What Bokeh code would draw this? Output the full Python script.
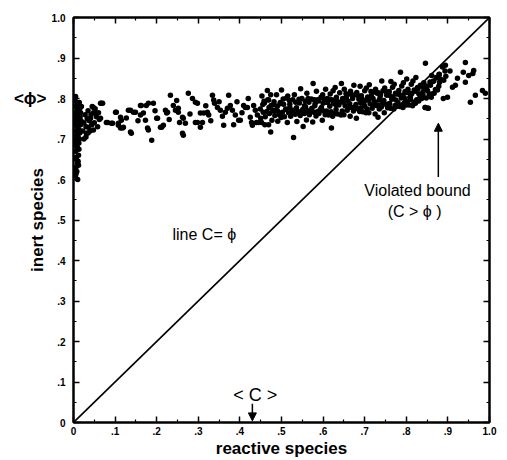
from bokeh.plotting import figure
from bokeh.models import (FixedTicker, LinearAxis, Label, Arrow, NormalHead,
                          CustomJSTickFormatter)
from bokeh.embed import file_html
from bokeh.resources import INLINE

# ---------------- data ----------------
# dense column of points just right of C = 0
column_pts = [(0.005,0.61),(0.008,0.62),(0.006,0.63),(0.010,0.64),(0.007,0.65),(0.012,0.66),
              (0.005,0.67),(0.009,0.68),(0.013,0.69),(0.006,0.70),(0.011,0.705),(0.008,0.71),
              (0.015,0.715),(0.005,0.72),(0.012,0.725),(0.009,0.73),(0.017,0.735),(0.006,0.74),
              (0.013,0.745),(0.010,0.75),(0.016,0.755),(0.007,0.76),(0.012,0.765),(0.009,0.77),
              (0.015,0.775),(0.006,0.78),(0.011,0.785),(0.008,0.79),(0.004,0.795),(0.010,0.60),
              (0.007,0.655),(0.013,0.675),(0.005,0.695),(0.014,0.70),(0.004,0.735),(0.018,0.745),
              (0.003,0.765),(0.014,0.79),(0.006,0.615),(0.011,0.645),(0.004,0.625),(0.012,0.635),
              (0.004,0.685),(0.016,0.72),(0.004,0.75),(0.017,0.765),(0.005,0.805),(0.019,0.78)]

# small cluster next to the column
left_pts = [(0.022,0.72),(0.025,0.74),(0.028,0.76),(0.030,0.73),(0.033,0.75),(0.035,0.77),
            (0.038,0.745),(0.040,0.72),(0.042,0.76),(0.045,0.78),(0.048,0.765),(0.050,0.74),
            (0.052,0.775),(0.055,0.755),(0.058,0.73),(0.060,0.765),(0.065,0.788),(0.025,0.70),
            (0.030,0.705),(0.035,0.715),(0.062,0.748),(0.044,0.735),(0.048,0.778),(0.053,0.764),
            (0.041,0.751),(0.036,0.729),(0.048,0.722),(0.031,0.714),(0.067,0.788),(0.065,0.751)]

# scattered band, C from about .07 to .50
mid_pts = [(0.079,0.741),(0.091,0.739),(0.103,0.766),(0.108,0.739),(0.115,0.746),(0.120,0.729),
           (0.113,0.727),(0.139,0.714),(0.137,0.771),(0.149,0.766),(0.161,0.759),(0.173,0.746),
           (0.180,0.722),(0.188,0.697),(0.163,0.783),(0.175,0.783),(0.192,0.788),(0.200,0.751),
           (0.212,0.729),(0.224,0.764),(0.233,0.808),(0.240,0.783),(0.221,0.771),(0.070,0.788),
           (0.082,0.741),(0.094,0.739),(0.101,0.766),(0.108,0.734),(0.113,0.754),(0.118,0.727),
           (0.137,0.717),(0.132,0.771),(0.144,0.766),(0.161,0.783),(0.168,0.764),(0.178,0.727),
           (0.180,0.788),(0.202,0.751),(0.209,0.729),(0.216,0.734),(0.226,0.766),(0.245,0.771),
           (0.252,0.776),(0.262,0.754),(0.264,0.709),(0.269,0.739),(0.276,0.813),(0.286,0.800),
           (0.293,0.791),(0.298,0.741),(0.305,0.729),(0.313,0.764),(0.322,0.766),(0.334,0.808),
           (0.337,0.796),(0.346,0.778),(0.353,0.771),(0.361,0.734),(0.373,0.808),(0.377,0.783),
           (0.382,0.771),(0.389,0.759),(0.401,0.746),(0.409,0.783),(0.418,0.778),(0.430,0.734),
           (0.433,0.783),(0.442,0.759),(0.450,0.751),(0.466,0.820),(0.474,0.717),(0.481,0.771),
           (0.298,0.788),(0.305,0.764),(0.325,0.759),(0.339,0.788),(0.310,0.741),(0.293,0.741),
           (0.262,0.714),(0.252,0.766),(0.264,0.751),(0.255,0.741),(0.365,0.766),(0.397,0.746),
           (0.413,0.778),(0.425,0.754),(0.437,0.771),(0.445,0.741),(0.469,0.796),(0.428,0.741),
           (0.440,0.741),(0.127,0.752),(0.155,0.745),(0.196,0.770),(0.230,0.748),(0.248,0.795),
           (0.280,0.762),(0.318,0.782),(0.330,0.745),(0.350,0.792),(0.358,0.756),(0.370,0.776),
           (0.393,0.792),(0.405,0.765),(0.420,0.800),(0.455,0.785),(0.460,0.735),(0.385,0.735)]

# dense rising band, C from about .45 to .88
band_pts = [
    (0.452,0.741),(0.456,0.766),(0.449,0.774),(0.458,0.793),(0.453,0.806),
    (0.461,0.755),(0.465,0.768),(0.459,0.789),(0.467,0.797),
    (0.469,0.735),(0.471,0.763),(0.470,0.778),(0.474,0.809),
    (0.477,0.746),(0.479,0.769),(0.475,0.783),(0.482,0.792),
    (0.484,0.758),(0.487,0.771),(0.482,0.785),(0.488,0.809),
    (0.491,0.744),(0.495,0.760),(0.490,0.781),(0.497,0.790),
    (0.499,0.753),(0.502,0.766),(0.497,0.787),(0.504,0.799),(0.500,0.821),
    (0.507,0.755),(0.510,0.774),(0.505,0.786),(0.512,0.801),
    (0.514,0.741),(0.517,0.765),(0.512,0.773),(0.519,0.795),(0.515,0.806),
    (0.522,0.756),(0.525,0.766),(0.520,0.786),(0.527,0.797),
    (0.529,0.704),(0.533,0.761),(0.528,0.771),(0.534,0.791),(0.531,0.809),
    (0.537,0.743),(0.540,0.768),(0.536,0.777),(0.542,0.798),
    (0.545,0.758),(0.548,0.767),(0.543,0.789),(0.549,0.800),(0.546,0.824),
    (0.552,0.731),(0.555,0.763),(0.551,0.773),(0.557,0.793),
    (0.560,0.747),(0.563,0.770),(0.558,0.779),(0.564,0.800),(0.561,0.813),
    (0.567,0.760),(0.570,0.770),(0.566,0.791),(0.572,0.799),
    (0.575,0.742),(0.578,0.766),(0.573,0.776),(0.579,0.797),(0.576,0.837),
    (0.583,0.757),(0.586,0.767),(0.581,0.788),(0.587,0.797),(0.584,0.818),
    (0.590,0.763),(0.593,0.773),(0.589,0.794),(0.595,0.803),
    (0.598,0.746),(0.601,0.769),(0.596,0.778),(0.602,0.799),(0.599,0.809),
    (0.605,0.760),(0.608,0.769),(0.604,0.791),(0.610,0.800),(0.606,0.823),
    (0.613,0.759),(0.616,0.781),(0.611,0.790),(0.617,0.811),
    (0.620,0.727),(0.623,0.756),(0.619,0.767),(0.625,0.788),(0.621,0.797),(0.624,0.819),
    (0.628,0.763),(0.631,0.773),(0.626,0.794),(0.632,0.803),(0.629,0.827),
    (0.635,0.762),(0.638,0.784),(0.634,0.793),(0.640,0.814),
    (0.643,0.759),(0.646,0.769),(0.641,0.791),(0.647,0.800),(0.644,0.837),
    (0.650,0.760),(0.653,0.782),(0.649,0.791),(0.655,0.812),(0.651,0.823),
    (0.658,0.771),(0.661,0.781),(0.656,0.802),(0.662,0.811),
    (0.665,0.756),(0.668,0.778),(0.664,0.787),(0.670,0.808),(0.666,0.818),
    (0.673,0.769),(0.676,0.779),(0.671,0.800),(0.677,0.809),(0.674,0.833),
    (0.680,0.751),(0.683,0.775),(0.679,0.785),(0.685,0.806),(0.681,0.815),
    (0.688,0.768),(0.691,0.777),(0.686,0.798),(0.692,0.807),(0.689,0.830),
    (0.695,0.767),(0.698,0.789),(0.694,0.798),(0.700,0.819),
    (0.703,0.765),(0.706,0.774),(0.701,0.795),(0.707,0.804),(0.704,0.826),
    (0.710,0.765),(0.713,0.787),(0.709,0.796),(0.715,0.817),(0.711,0.834),
    (0.718,0.776),(0.721,0.786),(0.716,0.807),(0.722,0.816),
    (0.725,0.762),(0.728,0.783),(0.724,0.792),(0.730,0.813),(0.726,0.823),
    (0.732,0.754),(0.735,0.774),(0.731,0.784),(0.737,0.805),(0.733,0.814),
    (0.740,0.779),(0.743,0.789),(0.738,0.810),(0.744,0.819),(0.741,0.843),
    (0.747,0.765),(0.750,0.786),(0.746,0.795),(0.752,0.816),(0.748,0.826),
    (0.755,0.777),(0.758,0.787),(0.753,0.808),(0.759,0.817),
    (0.762,0.776),(0.765,0.798),(0.761,0.807),(0.767,0.828),(0.763,0.842),
    (0.770,0.774),(0.773,0.783),(0.768,0.804),(0.774,0.813),(0.771,0.835),
    (0.777,0.780),(0.780,0.790),(0.776,0.811),(0.782,0.820),
    (0.785,0.780),(0.788,0.801),(0.783,0.810),(0.789,0.831),(0.786,0.865),
    (0.792,0.778),(0.795,0.787),(0.791,0.808),(0.797,0.817),(0.793,0.839),
    (0.800,0.784),(0.803,0.793),(0.798,0.814),(0.804,0.823),(0.801,0.848),
    (0.807,0.784),(0.810,0.805),(0.806,0.814),(0.812,0.835),
    (0.815,0.782),(0.818,0.791),(0.813,0.812),(0.819,0.821),(0.816,0.843),
    (0.822,0.788),(0.825,0.797),(0.821,0.818),(0.827,0.827),(0.823,0.852),
    (0.830,0.794),(0.833,0.803),(0.828,0.824),(0.834,0.833),
    (0.837,0.800),(0.840,0.809),(0.836,0.830),(0.842,0.839),
    (0.845,0.778),(0.848,0.801),(0.843,0.822),(0.849,0.831),(0.846,0.887),
    (0.852,0.776),(0.855,0.811),(0.851,0.820),(0.857,0.841),
    (0.860,0.803),(0.863,0.812),(0.858,0.833),(0.864,0.842),(0.861,0.857),
    (0.867,0.813),(0.870,0.822),(0.866,0.843),(0.872,0.852),
    (0.875,0.821),(0.878,0.830),(0.873,0.851),(0.879,0.859),
    (0.580,0.782),(0.615,0.797),(0.660,0.793),(0.700,0.781),(0.735,0.796),(0.775,0.796),
    (0.810,0.798),(0.840,0.816),(0.630,0.785),(0.690,0.790),(0.720,0.800),(0.760,0.787),
    (0.795,0.801),(0.830,0.812),(0.555,0.782),(0.520,0.778),(0.490,0.770),(0.600,0.788),
]

# sparse tail beyond the dense band
tail_pts = [(0.889,0.800),(0.899,0.803),(0.911,0.828),(0.918,0.833),(0.923,0.850),(0.937,0.865),
            (0.942,0.889),(0.942,0.840),(0.950,0.857),(0.960,0.862),(0.962,0.869),(0.954,0.791),
            (0.966,0.808),(0.983,0.820),(0.990,0.813),(0.853,0.776),(0.846,0.778),(0.894,0.882),
            (0.905,0.868),(0.880,0.840),(0.887,0.878),(0.893,0.868),(0.895,0.855),(0.890,0.845),
            (0.882,0.848),(0.879,0.860)]

diag = [0.0, 1.0]                 # the line C = phi
mean_c = 0.43                     # <C>
mean_phi = 0.80                   # <phi>
tick_vals = [0.0, 0.1, 0.2, 0.3, 0.4, 0.5, 0.6, 0.7, 0.8, 0.9, 1.0]
tick_text = ["0", ".1", ".2", ".3", ".4", ".5", ".6", ".7", ".8", ".9", "1.0"]
minor_vals = [0.05, 0.15, 0.25, 0.35, 0.45, 0.55, 0.65, 0.75, 0.85, 0.95]

# ---------------- build ----------------
xs, ys = [], []
for pts in (column_pts, left_pts, mid_pts, band_pts, tail_pts):
    for a, b in pts:
        xs.append(a); ys.append(b)

FONT = "Liberation Sans"

p = figure(width=507, height=460, x_range=(0, 1), y_range=(0, 1),
           output_backend="svg", toolbar_location=None,
           min_border_left=73, min_border_right=18, min_border_top=17, min_border_bottom=37)
p.background_fill_color = "white"
p.border_fill_color = "white"
p.xgrid.visible = False
p.ygrid.visible = False
p.outline_line_color = "black"
p.outline_line_width = 2

ticker = FixedTicker(ticks=tick_vals, minor_ticks=minor_vals)
overrides = {v: t for v, t in zip(tick_vals, tick_text)}

def style_axis(ax, labels=True):
    ax.ticker = ticker
    ax.axis_line_width = 2
    ax.axis_line_color = "black"
    ax.major_tick_in = 6
    ax.major_tick_out = 0
    ax.minor_tick_in = 3
    ax.minor_tick_out = 0
    ax.major_tick_line_width = 1.5
    ax.minor_tick_line_width = 1.2
    if labels:
        ax.major_label_overrides = overrides
        ax.major_label_text_font = FONT
        ax.major_label_text_font_style = "bold"
        ax.major_label_text_font_size = "10px"
        ax.major_label_text_color = "black"
        ax.major_label_standoff = 4
        ax.axis_label_text_font = FONT
        ax.axis_label_text_font_style = "bold"
        ax.axis_label_text_font_size = "17px"
        ax.axis_label_text_color = "black"
        ax.axis_label_standoff = 1
    else:
        ax.formatter = CustomJSTickFormatter(code="return ''")
        ax.major_label_text_font_size = "1px"
        ax.major_label_standoff = 0

style_axis(p.xaxis[0])
style_axis(p.yaxis[0])
p.xaxis[0].axis_label = "reactive species"
p.yaxis[0].axis_label = "inert species"
p.yaxis[0].major_label_standoff = 8
p.yaxis[0].axis_label_standoff = 2

# outer left axis carrying only the <phi> mark at the mean of phi
phi_axis = LinearAxis(ticker=FixedTicker(ticks=[mean_phi], minor_ticks=[]),
                      major_label_overrides={mean_phi: "<ϕ>"},
                      axis_line_color=None, major_tick_line_color=None,
                      minor_tick_line_color=None,
                      major_label_text_font=FONT, major_label_text_font_size="17px",
                      major_label_text_font_style="bold", major_label_text_color="black",
                      major_label_standoff=-28)
p.add_layout(phi_axis, "left")

top = LinearAxis()
right = LinearAxis()
style_axis(top, labels=False)
style_axis(right, labels=False)
p.add_layout(top, "above")
p.add_layout(right, "right")

p.line(diag, diag, line_color="black", line_width=1.6)
p.scatter(xs, ys, size=5.5, color="black", line_width=0)

# annotations
def lab(x, y, text, size="16px", align="left", style="normal"):
    p.add_layout(Label(x=x, y=y, text=text, text_font=FONT,
                       text_font_size=size, text_align=align, text_baseline="middle",
                       text_color="black", text_font_style=style))

lab(0.238, 0.463, "line C= ϕ", size="16px")
lab(0.827, 0.574, "Violated bound", size="16px", align="center")
lab(0.82, 0.522, "(C > ϕ )", size="16px", align="center")
lab(mean_c + 0.007, 0.069, "< C >", size="18px", align="center")

p.add_layout(Arrow(end=NormalHead(size=8, fill_color="black", line_color="black"),
                   x_start=mean_c, y_start=0.046, x_end=mean_c, y_end=0.004,
                   line_color="black", line_width=1.5))
p.add_layout(Arrow(end=NormalHead(size=8, fill_color="black", line_color="black"),
                   x_start=0.877, y_start=0.606, x_end=0.877, y_end=0.739,
                   line_color="black", line_width=1.5))

open("out.html", "w").write(file_html(p, INLINE))
